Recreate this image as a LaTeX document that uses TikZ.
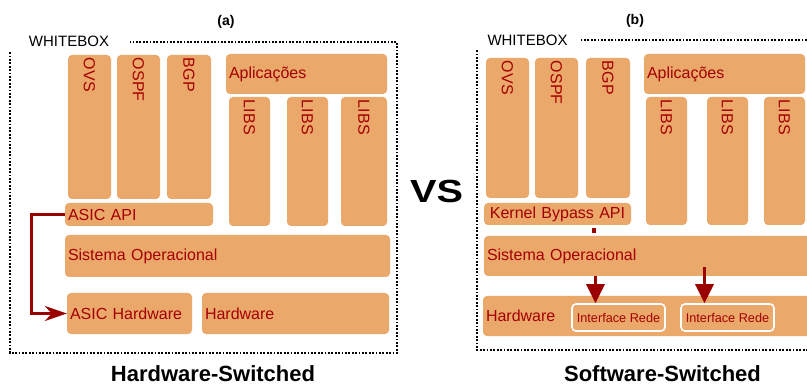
\documentclass[tikz,border=0pt]{standalone}
\usepackage{fontspec}
\setmainfont{Liberation Sans}
\usetikzlibrary{arrows.meta}
\definecolor{boxfill}{RGB}{235,168,107}
\definecolor{txtred}{RGB}{165,0,0}
\definecolor{arrred}{RGB}{155,0,0}

\begin{document}
\begin{tikzpicture}[
	x=1pt, y=-1pt,
	blk/.style 2 args={
		fill=boxfill, rounded corners=4pt, text=txtred,
		minimum width=#1, minimum height=#2, text width=#1-6pt,
		inner xsep=3pt, inner ysep=0pt, align=left,
		font=\fontsize{16}{18}\selectfont
	},
	vblk/.style 2 args={blk={#2}{#1}, rotate=-90},
	ifc/.style={
		fill=boxfill, draw=white, line width=1.6pt, rounded corners=4pt,
		text=txtred, minimum width=93pt, minimum height=27pt, inner sep=0pt,
		font=\fontsize{12.7}{14}\selectfont
	},
	wbframe/.style={line width=2.2pt, dash pattern=on 1.8pt off 1.6pt},
	wbtag/.style={fill=white, inner sep=0pt, font=\fontsize{15}{17}\selectfont},
	panel/.style={font=\bfseries\fontsize{14}{16}\selectfont},
	ttl/.style={anchor=base, font=\bfseries\fontsize{22}{26}\selectfont},
	flow/.style={draw=arrred, line width=3pt, -{Stealth[length=22pt,width=15pt,inset=7pt]}},
	drop/.style={draw=arrred, line width=3pt, -{Triangle[length=19pt,width=18pt]}}
]
\clip (0,0) rectangle (807,385);

% (a) Hardware-Switched
\draw[wbframe] (10,42) rectangle (397,353);
\node[wbtag, minimum width=122pt, minimum height=21pt] (wbA) at (69,41.5) {WHITEBOX};
\node[panel] (capA) at (226,22) {(a)};

\node[vblk={43pt}{144pt}] (ovsA)  at (89.5,127)  {OVS};
\node[vblk={43pt}{144pt}] (ospfA) at (138.5,127) {OSPF};
\node[vblk={44pt}{144pt}] (bgpA)  at (189,127)   {BGP};
\node[blk={161pt}{40pt}]  (appA)  at (306.5,74)  {Aplicações};
\node[vblk={41pt}{129pt}] (libA1) at (249.5,161.5) {LIBS};
\node[vblk={41pt}{129pt}] (libA2) at (307.5,161.5) {LIBS};
\node[vblk={46pt}{129pt}] (libA3) at (364,161.5)   {LIBS};
\node[blk={148pt}{23pt}]  (apiA)  at (139,214.5) {ASIC API};
\node[blk={325pt}{42pt}]  (soA)   at (227.5,256) {Sistema Operacional};
\node[blk={125pt}{41pt}]  (asichw) at (129.5,313.5) {ASIC Hardware};
\node[blk={187pt}{41pt}]  (hwA)   at (295.5,313.5) {Hardware};

% API goes straight down to the ASIC
\draw[flow] (apiA.west) -- ++(-33,0) |- (asichw.west);

\node[ttl] (ttlA) at (213,381.5) {Hardware-Switched};

% middle
\node[font=\bfseries\fontsize{32}{36}\selectfont, xscale=1.24] (vs) at (436.5,191.5) {VS};

% (b) Software-Switched
\draw[wbframe] (477,40) rectangle (830,350);
\node[wbtag, minimum width=107pt, minimum height=20pt] (wbB) at (527.5,40) {WHITEBOX};
\node[panel] (capB) at (635,21) {(b)};

\node[vblk={43pt}{140pt}] (ovsB)  at (507.5,128) {OVS};
\node[vblk={43pt}{140pt}] (ospfB) at (556.5,128) {OSPF};
\node[vblk={44pt}{140pt}] (bgpB)  at (608,128)   {BGP};
\node[blk={161pt}{40pt}]  (appB)  at (724.5,74)  {Aplicações};
\node[vblk={41pt}{128pt}] (libB1) at (666.5,161) {LIBS};
\node[vblk={41pt}{128pt}] (libB2) at (727.5,161) {LIBS};
\node[vblk={41pt}{128pt}] (libB3) at (784.5,161) {LIBS};
\node[blk={147pt}{22pt}, align=center] (apiB) at (557.5,214) {Kernel Bypass API};
\node[blk={330pt}{40pt}]  (soB)   at (649,256)   {Sistema Operacional};
\node[blk={331pt}{40pt}]  (hwB)   at (648.5,316) {Hardware};
\node[ifc] (ifc1) at (618.5,317.5) {Interface Rede};
\node[ifc] (ifc2) at (727.5,317.5) {Interface Rede};

\fill[arrred] ([xshift=34.5pt,yshift=-3pt]apiB.south) rectangle ++(4pt,-5pt);

% OS down to the network interfaces
\coordinate (d1) at ([xshift=-23pt]ifc1.north);
\coordinate (d2) at ([xshift=-23pt]ifc2.north);
\draw[drop] (d1 |- soB.south) -- (d1);
\draw[drop] ([yshift=9pt]d2 |- soB.south) -- (d2);

\node[ttl] (ttlB) at (662.5,381.5) {Software-Switched};

\end{tikzpicture}
\end{document}
